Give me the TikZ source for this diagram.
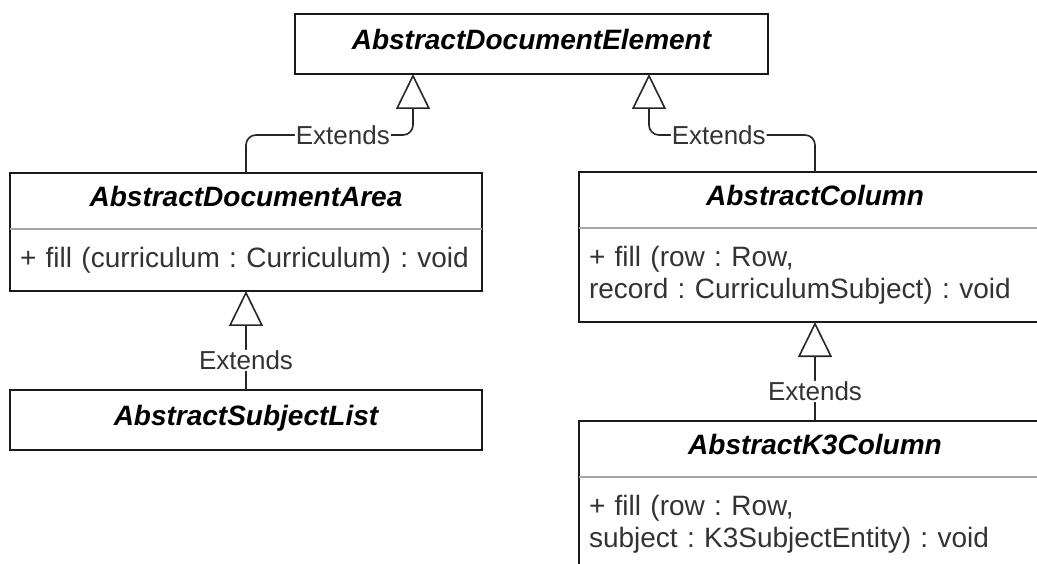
\documentclass[tikz,border=0pt]{standalone}
\usepackage{fontspec}
\setmainfont{Liberation Sans}
\usetikzlibrary{arrows.meta,positioning,calc}
\frenchspacing

\tikzset{
  classhead/.style={minimum width=472pt, minimum height=56pt, outer sep=0pt,
    text height=21pt, text depth=10pt, font=\fontsize{28}{32}\selectfont\bfseries\itshape},
  classbody/.style={below=0pt of #1, text width=452pt, inner xsep=10pt, inner ysep=0pt,
    outer sep=0pt, align=left, text=black!80, font=\fontsize{28}{32}\selectfont},
  frame/.style={draw=black!90, line width=1.8pt},
  divider/.style={draw=black!35, line width=1.2pt},
  extends/.style={draw=black!85, line width=1.6pt, rounded corners=10pt,
    -{Triangle[open,length=35pt,width=34pt]}},
  lbl/.style={fill=white, inner sep=1pt, text=black!80, font=\fontsize{26}{30}\selectfont},
}

\begin{document}
\begin{tikzpicture}[x=1pt, y=-1pt]
    \useasboundingbox (0,0) rectangle (1037,564);
    \clip (0,0) rectangle (1037,564);

    % top class
    \node[classhead, frame, minimum width=473pt, minimum height=60pt] (elem) at (531.5,44) {AbstractDocumentElement};

    % left column
    \node[classhead] (area) at (246,201) {AbstractDocumentArea};
    \node[classbody=area, minimum height=62pt] (areabody) {+ fill (curriculum : Curriculum) : void};
    \draw[frame] (area.north west) rectangle (areabody.south east);
    \draw[divider] (area.south west) -- (area.south east);

    \node[classhead, frame, minimum height=60pt] (subj) at (246,420) {AbstractSubjectList};

    % right column
    \node[classhead] (col) at (815,200) {AbstractColumn};
    \node[classbody=col, minimum height=94pt] (colbody) {+ fill (row : Row,\\record : CurriculumSubject) : void};
    \draw[frame] (col.north west) rectangle (colbody.south east);
    \draw[divider] (col.south west) -- (col.south east);

    \node[classhead] (kcol) at (815,449) {AbstractK3Column};
    \node[classbody=kcol, minimum height=94pt] (kcolbody) {+ fill (row : Row,\\subject : K3SubjectEntity) : void};
    \draw[frame] (kcol.north west) rectangle (kcolbody.south east);
    \draw[divider] (kcol.south west) -- (kcol.south east);

    % inheritance
    \coordinate (upL) at (413,74);
    \coordinate (upR) at (649,74);
    \draw[extends] (area.north) |- node[lbl, pos=0.79] {Extends} ($(upL)+(0,61)$) -- (upL);
    \draw[extends] (col.north) |- node[lbl, pos=0.79] {Extends} ($(upR)+(0,61)$) -- (upR);
    \draw[extends] (subj.north) -- node[lbl, pos=0.3] {Extends} (areabody.south);
    \draw[extends] (kcol.north) -- node[lbl, pos=0.3] {Extends} (colbody.south);
\end{tikzpicture}
\end{document}
